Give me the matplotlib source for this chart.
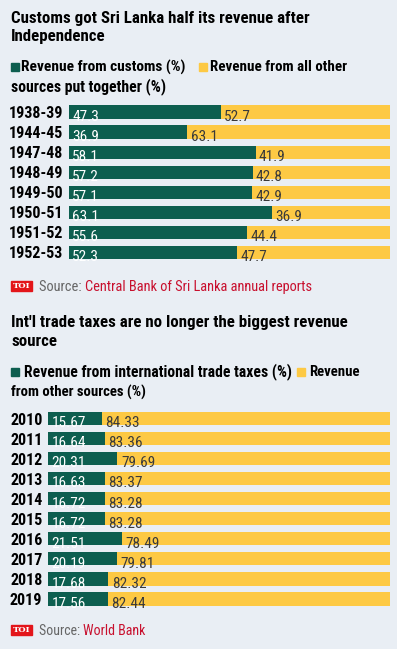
import matplotlib
matplotlib.use('Agg')
import matplotlib.pyplot as plt
from matplotlib.patches import Rectangle

# data
periods = ['1938-39', '1944-45', '1947-48', '1948-49', '1949-50', '1950-51', '1951-52', '1952-53']
customs = [47.3, 36.9, 58.1, 57.2, 57.1, 63.1, 55.6, 52.3]
others = [52.7, 63.1, 41.9, 42.8, 42.9, 36.9, 44.4, 47.7]

years = ['2010', '2011', '2012', '2013', '2014', '2015', '2016', '2017', '2018', '2019']
trade = [15.67, 16.64, 20.31, 16.63, 16.72, 16.72, 21.51, 20.19, 17.68, 17.56]
other_src = [84.33, 83.36, 79.69, 83.37, 83.28, 83.28, 78.49, 79.81, 82.32, 82.44]

GREEN = '#0d5e4f'
YELLOW = '#fdc944'
BG = '#e9eef4'
RED = '#c8102e'

plt.rcParams['font.family'] = ['Roboto Condensed', 'DejaVu Sans']

W, H = 397, 649
fig = plt.figure(figsize=(W / 100, H / 100), dpi=100, facecolor=BG)
renderer = fig.canvas.get_renderer()


def px(x, y):
    return x / W, 1 - y / H


def put(x, y, s, width=None, **kw):
    # place text, scaling font so it spans about `width` pixels
    t = fig.text(*px(x, y), s, va='center', **kw)
    if width:
        w = t.get_window_extent(renderer).width
        t.set_fontsize(t.get_fontsize() * width / w)
    return t


def stacked(ax, cats, a, b, fmt):
    pos = list(range(len(cats)))
    ax.barh(pos, a, height=0.66, color=GREEN)
    ax.barh(pos, b, left=a, height=0.66, color=YELLOW)
    for i in pos:
        ax.text(1.0, i + 0.24, fmt(a[i]), color='white', va='center', ha='left', fontsize=11)
        ax.text(a[i] + 1.0, i + 0.24, fmt(b[i]), color='#3a3a3a', va='center', ha='left', fontsize=11)
    ax.set_xlim(0, 100)
    ax.set_ylim(len(cats) - 0.5, -0.5)
    ax.set_yticks(pos)
    ax.set_yticklabels(cats, fontweight='bold', fontsize=11.5)
    ax.tick_params(axis='y', length=0, pad=4)
    ax.set_xticks([])
    ax.set_facecolor(BG)
    for s in ax.spines.values():
        s.set_visible(False)


def source(y, label, x_end):
    fig.patches.append(Rectangle(px(11, y + 4), 21 / W, 10 / H, transform=fig.transFigure,
                                 color='#e3151a', zorder=3))
    fig.text(*px(21.5, y - 1), 'TOI', color='white', fontsize=6, fontweight='bold',
             family='DejaVu Serif', ha='center', va='center', zorder=4)
    t = put(39, y, 'Source: ', color='#666666', fontsize=11)
    bb = t.get_window_extent(renderer)
    t2 = fig.text(bb.x1 / W, 1 - y / H, label, color=RED, fontsize=11, va='center')
    w = t2.get_window_extent(renderer).width
    fs = t2.get_fontsize() * (x_end - bb.x1) / w
    t.set_fontsize(fs)
    t2.set_fontsize(fs)
    t2.set_x(t.get_window_extent(renderer).x1 / W)


def legend_square(x, y, col):
    fig.patches.append(Rectangle(px(x, y + 4), 8 / W, 8 / H, transform=fig.transFigure, color=col))


# top chart
put(11, 18, 'Customs got Sri Lanka half its revenue after', width=296, fontsize=13, fontweight='bold')
put(11, 37, 'Independence', fontsize=fig.texts[-1].get_fontsize(), fontweight='bold')
legend_square(11, 67, GREEN)
put(21, 67, 'Revenue from customs (%)', width=164, fontsize=11, fontweight='bold')
legend_square(199, 67, YELLOW)
put(210, 67, 'Revenue from all other', width=137, fontsize=11, fontweight='bold')
put(11, 87, 'sources put together (%)', width=155, fontsize=11, fontweight='bold')

ax1 = fig.add_axes([69 / W, 1 - 262.5 / H, 321 / W, 160.5 / H])
stacked(ax1, periods, customs, others, lambda v: f'{v:.1f}')
source(287, 'Central Bank of Sri Lanka annual reports', 315)

# bottom chart
put(11, 323, "Int'l trade taxes are no longer the biggest revenue", width=334, fontsize=13, fontweight='bold')
put(11, 342, 'source', fontsize=fig.texts[-1].get_fontsize(), fontweight='bold')
legend_square(11, 372, GREEN)
put(24, 372, 'Revenue from international trade taxes (%)', width=266, fontsize=11, fontweight='bold')
legend_square(297, 372, YELLOW)
put(309, 372, 'Revenue', width=51, fontsize=11, fontweight='bold')
put(11, 392, 'from other sources (%)', fontsize=fig.texts[-1].get_fontsize(), fontweight='bold')

ax2 = fig.add_axes([48 / W, 1 - 609 / H, 342 / W, 200.5 / H])
stacked(ax2, years, trade, other_src, lambda v: f'{v:.2f}')
source(631, 'World Bank', 150)

fig.savefig('out.png', dpi=100, facecolor=BG)
